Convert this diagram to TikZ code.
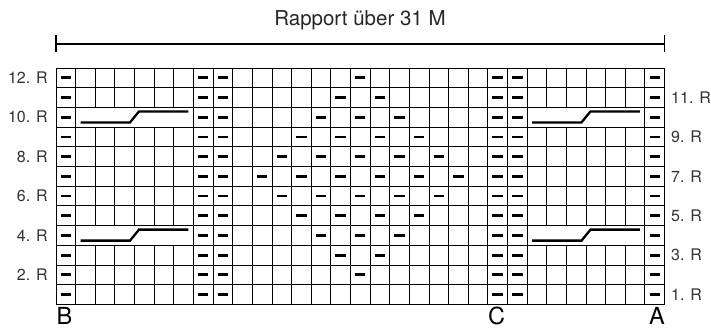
\documentclass[tikz,border=0pt]{standalone}
\usepackage{fontspec}
\setmainfont{TeX Gyre Heros}
\usetikzlibrary{calc}
\begin{document}
\begin{tikzpicture}[x=1pt,y=-1pt,
  gridline/.style={line width=0.85pt, black},
  knit/.style={line width=2.8pt, black},
  cable/.style={line width=2.3pt, black, line join=miter, line cap=butt},
  rapbar/.style={line width=1.6pt, black},
  titletext/.style={font=\fontsize{20.5}{22}\selectfont, text=black!85, inner sep=0pt},
  rowlab/.style={font=\fontsize{16}{17}\selectfont, text=black!80, inner sep=0pt},
  bigletter/.style={font=\fontsize{23.5}{25}\selectfont, text=black, inner sep=0pt}
]
\useasboundingbox (0,0) rectangle (711,329);
\def\cw{19.63}
\def\rh{19.7}
% title and bar
\node[titletext] (title) at (360,20) {Rapport über 31 M};
\coordinate (barL) at (56,44);
\coordinate (barR) at (664.5,44);
\draw[rapbar] (barL) -- (barR);
\draw[rapbar] ($(barL)+(0,-8.5)$) -- ($(barL)+(0,8.5)$);
\draw[rapbar] ($(barR)+(0,-8.5)$) -- ($(barR)+(0,8.5)$);
% grid
\foreach \j in {0,...,12} \draw[gridline] (56,{68+\rh*\j}) -- ({56+\cw*31},{68+\rh*\j});
\foreach \k in {0,...,31} \draw[gridline] ({56+\cw*\k},68) -- ({56+\cw*\k},{68+\rh*12});
% merged cable cells
\foreach \r in {4,10} {
  \fill[white] ({56+\cw*1+0.5},{68+\rh*(12-\r)+0.5}) rectangle ({56+\cw*7-0.5},{68+\rh*(13-\r)-0.5});
  \fill[white] ({56+\cw*24+0.5},{68+\rh*(12-\r)+0.5}) rectangle ({56+\cw*30-0.5},{68+\rh*(13-\r)-0.5});
  \draw[cable] ({56+\cw*1+5},{68+\rh*(12-\r)+15}) -- ({56+\cw*4-4.5},{68+\rh*(12-\r)+15})
     -- ({56+\cw*4+4.5},{68+\rh*(12-\r)+4}) -- ({56+\cw*7-5},{68+\rh*(12-\r)+4});
  \draw[cable] ({56+\cw*24+5},{68+\rh*(12-\r)+15}) -- ({56+\cw*27-4.5},{68+\rh*(12-\r)+15})
     -- ({56+\cw*27+4.5},{68+\rh*(12-\r)+4}) -- ({56+\cw*30-5},{68+\rh*(12-\r)+4});
}
% purl dashes in fixed columns
\foreach \r in {1,...,12} \foreach \c in {1,8,9,23,24,31}
  \draw[knit] ({56+\cw*(\c-0.5)-5.2},{68+\rh*(12.5-\r)}) -- ++(10.4,0);
% diamond pattern
\foreach \r/\c in {2/16,3/15,3/17,4/14,4/16,4/18,5/13,5/15,5/17,5/19,
  6/12,6/14,6/16,6/18,6/20,7/11,7/13,7/15,7/17,7/19,7/21,
  8/12,8/14,8/16,8/18,8/20,9/13,9/15,9/17,9/19,10/14,10/16,10/18,11/15,11/17,12/16}
  \draw[knit] ({56+\cw*(\c-0.5)-5.2},{68+\rh*(12.5-\r)}) -- ++(10.4,0);
% row labels
\foreach \r in {2,4,6,8,10,12}
  \node[rowlab, anchor=east] (L\r) at (48,{68+\rh*(12.5-\r)}) {\r. R};
\foreach \r in {1,3,5,7,9,11}
  \node[rowlab, anchor=west] (R\r) at (671,{68+\rh*(12.5-\r)}) {\r. R};
% letters
\node[bigletter, anchor=base west] (B) at (56.5,324.8) {B};
\node[bigletter, anchor=base west] (C) at ({56+\cw*22},324.8) {C};
\node[bigletter, anchor=base] (A) at (657,324.8) {A};
\end{tikzpicture}
\end{document}
